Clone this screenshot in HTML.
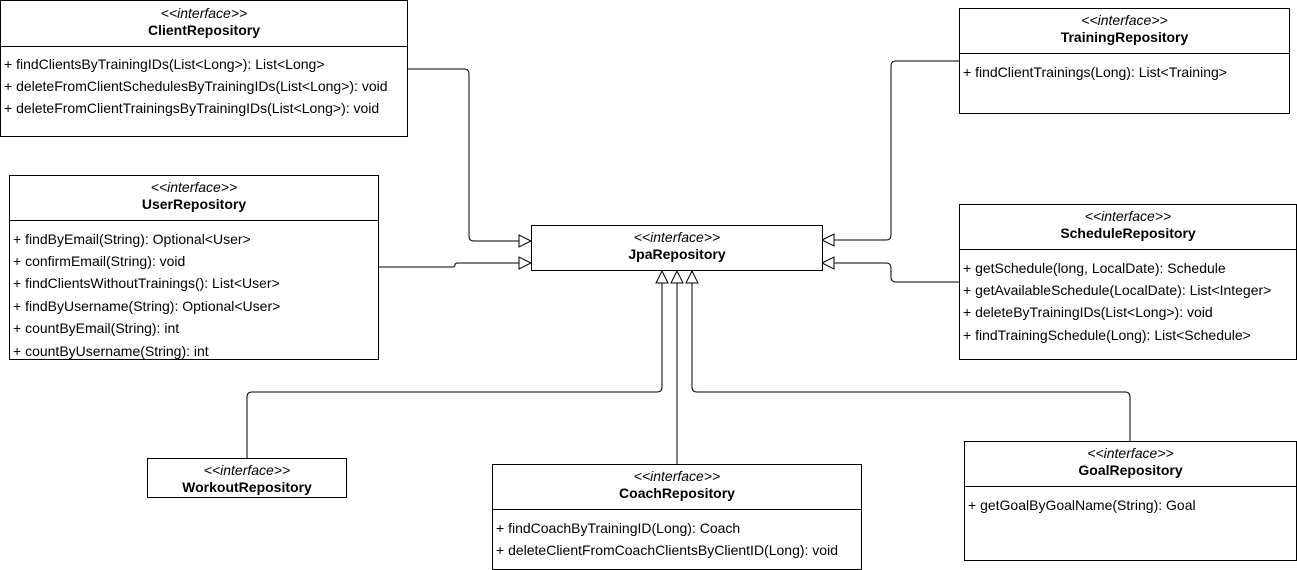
<!DOCTYPE html>
<html><head><meta charset="utf-8"><style>
html,body{margin:0;padding:0;background:#fff;}
body{width:1297px;height:570px;position:relative;overflow:hidden;font-family:"Liberation Sans",Arial,sans-serif;font-size:14px;color:#000;}
.b{position:absolute;border:1px solid #000;box-sizing:border-box;background:#fff;}
.st{position:absolute;left:0;right:0;text-align:center;font-style:italic;font-size:14px;}
.nm{position:absolute;left:0;right:0;text-align:center;font-weight:bold;font-size:14px;}
.dv{position:absolute;left:0;right:0;border-top:1px solid #000;}
.m{position:absolute;left:3px;white-space:nowrap;font-size:14px;}
svg{position:absolute;left:0;top:0;}
</style></head><body>
<svg width="1297" height="570" viewBox="0 0 1297 570">
<g fill="none" stroke="#000" stroke-width="1">
<path d="M408 69 H464 Q469 69 469 74 V236 Q469 241 474 241 H519"/>
<path d="M379 267 H452 Q455 267 455 265 Q455 263 458 263 H519"/>
<path d="M959 61 H896 Q891 61 891 66 V235 Q891 240 886 240 H834"/>
<path d="M959 282 H896 Q891 282 891 277 V268 Q891 263 886 263 H834"/>
<path d="M247 458 V397 Q247 392 252 392 H657 Q662 392 662 387 V283"/>
<path d="M677 464 V283"/>
<path d="M1130 441 V397 Q1130 392 1125 392 H697 Q692 392 692 387 V283"/>
</g>
<g fill="#fff" stroke="#000" stroke-width="1">
<path d="M531 241 L519 235 L519 247 Z"/>
<path d="M531 263 L519 257 L519 269 Z"/>
<path d="M822 240 L834 234 L834 246 Z"/>
<path d="M822 263 L834 257 L834 269 Z"/>
<path d="M662 271 L656 283 L668 283 Z"/>
<path d="M677 271 L671 283 L683 283 Z"/>
<path d="M692 271 L686 283 L698 283 Z"/>
</g>
</svg>

<div class="b" style="left:0;top:0;width:408px;height:137px;">
<div class="st" style="top:4px">&lt;&lt;interface&gt;&gt;</div>
<div class="nm" style="top:21px">ClientRepository</div>
<div class="dv" style="top:45px"></div>
<div class="m" style="top:55px">+ findClientsByTrainingIDs(List&lt;Long&gt;): List&lt;Long&gt;</div>
<div class="m" style="top:77px">+ deleteFromClientSchedulesByTrainingIDs(List&lt;Long&gt;): void</div>
<div class="m" style="top:99px">+ deleteFromClientTrainingsByTrainingIDs(List&lt;Long&gt;): void</div>
</div>

<div class="b" style="left:959px;top:8px;width:331px;height:106px;">
<div class="st" style="top:3px">&lt;&lt;interface&gt;&gt;</div>
<div class="nm" style="top:20px">TrainingRepository</div>
<div class="dv" style="top:44px"></div>
<div class="m" style="top:55px">+ findClientTrainings(Long): List&lt;Training&gt;</div>
</div>

<div class="b" style="left:9px;top:175px;width:370px;height:185px;">
<div class="st" style="top:3px">&lt;&lt;interface&gt;&gt;</div>
<div class="nm" style="top:20px">UserRepository</div>
<div class="dv" style="top:44px"></div>
<div class="m" style="top:55px">+ findByEmail(String): Optional&lt;User&gt;</div>
<div class="m" style="top:77px">+ confirmEmail(String): void</div>
<div class="m" style="top:99px">+ findClientsWithoutTrainings(): List&lt;User&gt;</div>
<div class="m" style="top:122px">+ findByUsername(String): Optional&lt;User&gt;</div>
<div class="m" style="top:144px">+ countByEmail(String): int</div>
<div class="m" style="top:167px">+ countByUsername(String): int</div>
</div>

<div class="b" style="left:531px;top:225px;width:292px;height:46px;">
<div class="st" style="top:3px">&lt;&lt;interface&gt;&gt;</div>
<div class="nm" style="top:20px">JpaRepository</div>
</div>

<div class="b" style="left:959px;top:204px;width:338px;height:156px;">
<div class="st" style="top:3px">&lt;&lt;interface&gt;&gt;</div>
<div class="nm" style="top:20px">ScheduleRepository</div>
<div class="dv" style="top:44px"></div>
<div class="m" style="top:55px">+ getSchedule(long, LocalDate): Schedule</div>
<div class="m" style="top:77px">+ getAvailableSchedule(LocalDate): List&lt;Integer&gt;</div>
<div class="m" style="top:99px">+ deleteByTrainingIDs(List&lt;Long&gt;): void</div>
<div class="m" style="top:122px">+ findTrainingSchedule(Long): List&lt;Schedule&gt;</div>
</div>

<div class="b" style="left:147px;top:458px;width:200px;height:40px;">
<div class="st" style="top:3px">&lt;&lt;interface&gt;&gt;</div>
<div class="nm" style="top:20px">WorkoutRepository</div>
</div>

<div class="b" style="left:492px;top:464px;width:370px;height:106px;">
<div class="st" style="top:3px">&lt;&lt;interface&gt;&gt;</div>
<div class="nm" style="top:20px">CoachRepository</div>
<div class="dv" style="top:44px"></div>
<div class="m" style="top:55px">+ findCoachByTrainingID(Long): Coach</div>
<div class="m" style="top:77px">+ deleteClientFromCoachClientsByClientID(Long): void</div>
</div>

<div class="b" style="left:964px;top:441px;width:333px;height:120px;">
<div class="st" style="top:3px">&lt;&lt;interface&gt;&gt;</div>
<div class="nm" style="top:20px">GoalRepository</div>
<div class="dv" style="top:44px"></div>
<div class="m" style="top:55px">+ getGoalByGoalName(String): Goal</div>
</div>
</body></html>
